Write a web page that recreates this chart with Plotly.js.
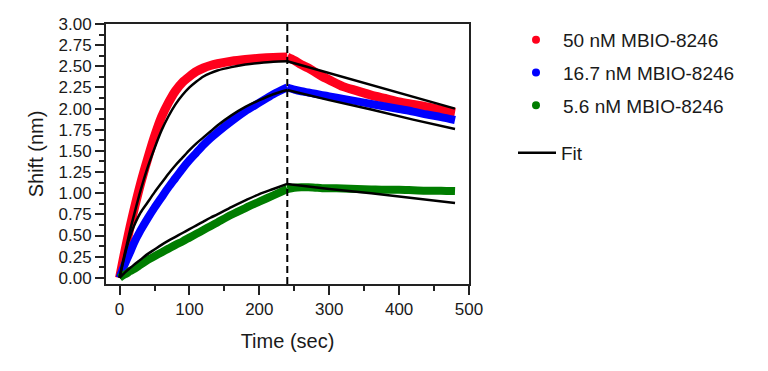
<!DOCTYPE html>
<html>
<head>
<meta charset="utf-8">
<script src="https://cdn.plot.ly/plotly-3.0.1.min.js"></script>
<style>html,body{margin:0;padding:0;background:#fff;}#chart{width:768px;height:371px;}</style>
</head>
<body>
<div id="chart"></div>
<script>
// Time points (sec)
const assocT = [0,5,10,15,20,30,40,50,60,70,80,90,100,110,120,130,140,160,180,200,220,240];
const dissocT = [240,250,260,270,280,290,300,320,340,360,380,400,420,440,460,480];
const fitDissocT = [240,300,360,420,480];

// 50 nM MBIO-8246
const nM50Assoc = [0,0.21,0.41,0.60,0.78,1.11,1.40,1.67,1.90,2.07,2.21,2.31,2.38,2.44,2.48,2.51,2.53,2.56,2.58,2.595,2.605,2.61];
const nM50Dissoc = [2.61,2.57,2.52,2.48,2.43,2.38,2.34,2.26,2.21,2.16,2.12,2.08,2.05,2.02,1.985,1.955];
const nM50FitAssoc = [0,0.20,0.38,0.56,0.72,1.03,1.30,1.53,1.74,1.91,2.05,2.16,2.25,2.32,2.38,2.42,2.45,2.49,2.52,2.54,2.555,2.56];
const nM50FitDissoc = [2.56,2.42,2.28,2.14,2.00];

// 16.7 nM MBIO-8246
const nM167Assoc = [0,0.11,0.21,0.30,0.40,0.56,0.70,0.83,0.95,1.07,1.18,1.29,1.39,1.48,1.57,1.65,1.72,1.85,1.97,2.07,2.17,2.25];
const nM167Dissoc = [2.25,2.225,2.205,2.19,2.175,2.16,2.145,2.115,2.085,2.055,2.025,1.995,1.965,1.93,1.90,1.865];
const nM167FitAssoc = [0,0.18,0.35,0.49,0.60,0.77,0.89,1.01,1.12,1.23,1.33,1.42,1.51,1.59,1.66,1.73,1.80,1.92,2.02,2.10,2.17,2.22];
const nM167FitDissoc = [2.22,2.10,1.99,1.87,1.76];

// 5.6 nM MBIO-8246
const nM56Assoc = [0,0.03,0.05,0.08,0.10,0.155,0.21,0.255,0.30,0.345,0.39,0.43,0.475,0.52,0.565,0.61,0.655,0.745,0.825,0.90,0.975,1.05];
const nM56Dissoc = [1.05,1.065,1.07,1.07,1.065,1.06,1.06,1.055,1.05,1.045,1.04,1.04,1.035,1.03,1.03,1.025];
const nM56FitAssoc = [0,0.04,0.08,0.115,0.15,0.215,0.28,0.335,0.39,0.44,0.485,0.53,0.575,0.62,0.665,0.71,0.75,0.835,0.915,0.99,1.05,1.11];
const nM56FitDissoc = [1.11,1.05,1.00,0.94,0.885];

const seriesNames = ['50 nM MBIO-8246','16.7 nM MBIO-8246','5.6 nM MBIO-8246'];
const fitName = 'Fit';
const switchTime = 240;
const xTickVals = [0,100,200,300,400,500];
const yTickVals = [0,0.25,0.5,0.75,1,1.25,1.5,1.75,2,2.25,2.5,2.75,3];

const colors = ['rgb(255,0,28)','rgb(0,0,255)','rgb(0,125,0)'];
const widths = [9,8,8];
const FONT = 'Liberation Sans, Arial, sans-serif';

const dataSets = [
  [nM50Assoc, nM50Dissoc, nM50FitAssoc, nM50FitDissoc],
  [nM167Assoc, nM167Dissoc, nM167FitAssoc, nM167FitDissoc],
  [nM56Assoc, nM56Dissoc, nM56FitAssoc, nM56FitDissoc]
];

const traces = [];
dataSets.forEach((d, k) => {
  traces.push({x: assocT, y: d[0], mode:'lines', showlegend:false, hoverinfo:'skip',
    line:{color:colors[k], width:widths[k], shape:'spline', smoothing:0.8}});
  traces.push({x: dissocT, y: d[1], mode:'lines', showlegend:false, hoverinfo:'skip',
    line:{color:colors[k], width:widths[k], shape:'spline', smoothing:0.8}});
});
dataSets.forEach((d, k) => {
  traces.push({x: assocT, y: d[2], mode:'lines', showlegend:false, hoverinfo:'skip',
    line:{color:'#000', width:2.5, shape:'spline', smoothing:0.8}});
  traces.push({x: fitDissocT, y: d[3], mode:'lines', showlegend:false, hoverinfo:'skip',
    line:{color:'#000', width:2.5}});
});
// legend entries
seriesNames.forEach((n, k) => {
  traces.push({x:[null], y:[null], mode:'markers', name:n, legendgroup:'g'+k, legend:'legend',
    marker:{color:colors[k], size:8}});
});
traces.push({x:[null], y:[null], mode:'lines', name:fitName, legend:'legend2',
  line:{color:'#000', width:2.5}});

const axisCommon = {
  showline:true, linecolor:'#222', linewidth:2, mirror:true,
  showgrid:false, zeroline:false,
  ticks:'outside', ticklen:9, tickwidth:2, tickcolor:'#222',
  tickfont:{family:FONT, size:17, color:'#1a1a1a'}
};

const layout = {
  width:768, height:371,
  margin:{l:106, r:299, t:24, b:87},
  paper_bgcolor:'#fff', plot_bgcolor:'#fff',
  font:{family:FONT, color:'#1a1a1a'},
  xaxis: Object.assign({}, axisCommon, {
    range:[-19.4, 500], tickmode:'array', tickvals:xTickVals,
    minor:{dtick:50, tick0:0, ticks:'outside', ticklen:5, tickwidth:2, tickcolor:'#222', showgrid:false},
    title:{text:'Time (sec)', font:{family:FONT, size:20, color:'#1a1a1a'}, standoff:16}
  }),
  yaxis: Object.assign({}, axisCommon, {
    range:[-0.073, 3.0], tickmode:'array', tickvals:yTickVals, tickformat:'.2f',
    minor:{dtick:0.125, tick0:0, ticks:'outside', ticklen:5, tickwidth:2, tickcolor:'#222', showgrid:false},
    title:{text:'Shift (nm)', font:{family:FONT, size:20, color:'#1a1a1a'}, standoff:10}
  }),
  shapes:[{type:'line', xref:'x', yref:'paper', x0:switchTime, x1:switchTime, y0:0, y1:1,
    line:{color:'#000', width:2, dash:'7px,4px'}}],
  showlegend:true,
  legend:{xref:'container', yref:'container', x:509/768, y:1-21/371, xanchor:'left', yanchor:'top',
    font:{family:FONT, size:19, color:'#1a1a1a'}, itemwidth:44, tracegroupgap:5,
    traceorder:'grouped', bgcolor:'rgba(0,0,0,0)', borderwidth:0},
  legend2:{xref:'container', yref:'container', x:513/768, y:1-134/371, xanchor:'left', yanchor:'top',
    font:{family:FONT, size:19, color:'#1a1a1a'}, itemwidth:38,
    bgcolor:'rgba(0,0,0,0)', borderwidth:0}
};

Plotly.newPlot('chart', traces, layout, {staticPlot:true, displayModeBar:false});
</script>
</body>
</html>
